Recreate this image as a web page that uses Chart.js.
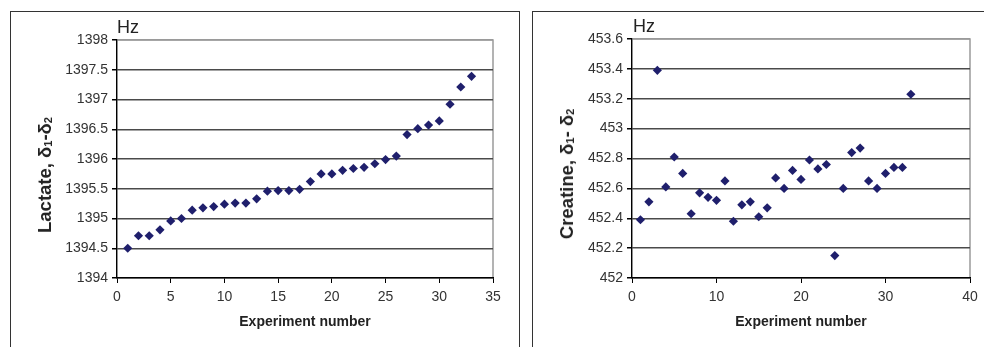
<!DOCTYPE html>
<html>
<head>
<meta charset="utf-8">
<script src="https://cdn.jsdelivr.net/npm/chart.js@4"></script>
<style>
  body { margin: 0; background: #fff; width: 984px; height: 347px; overflow: hidden; position: relative; font-family: "Liberation Sans", Arial, sans-serif; }
  .panel { position: absolute; border: 1px solid #333; border-bottom: none; }
  canvas { position: absolute; top: 0; }
  .hz { position: absolute; font-size: 18px; color: #222; line-height: 1; }
  .ytitle { position: absolute; font-size: 18.5px; font-weight: bold; color: #222; white-space: nowrap; transform: translate(-50%, -50%) rotate(-90deg); }
  .ytitle sub { font-size: 11px; vertical-align: -1px; }
</style>
</head>
<body>
<div class="panel" style="left:10px; top:11px; width:508px; height:400px;"></div>
<div class="panel" style="left:532px; top:11px; width:470px; height:400px; border-right:none;"></div>

<canvas id="chart-lactate" width="520" height="347" style="left:0px;"></canvas>
<canvas id="chart-creatine" width="464" height="347" style="left:520px;"></canvas>

<div class="hz" style="left:117px; top:18px;">Hz</div>
<div class="hz" style="left:633px; top:17px;">Hz</div>
<div class="ytitle" style="left:45px; top:175px;">Lactate, δ<sub>1</sub>-δ<sub>2</sub></div>
<div class="ytitle" style="left:567px; top:174px;">Creatine, δ<sub>1</sub>- δ<sub>2</sub></div>

<script>
// experiment numbers 1..33
var experimentNo = [1, 2, 3, 4, 5, 6, 7, 8, 9, 10, 11, 12, 13, 14, 15, 16, 17, 18, 19, 20, 21, 22, 23, 24, 25, 26, 27, 28, 29, 30, 31, 32, 33];

// lactate delta1-delta2 (Hz)
var lactateHz = [1394.50, 1394.71, 1394.71, 1394.81, 1394.96, 1395.00, 1395.14, 1395.18, 1395.20, 1395.24,
    1395.26, 1395.26, 1395.33, 1395.46, 1395.47, 1395.47, 1395.49, 1395.62, 1395.75, 1395.75,
    1395.81, 1395.84, 1395.86, 1395.92, 1395.99, 1396.05, 1396.41, 1396.51, 1396.57, 1396.64,
    1396.92, 1397.21, 1397.39];

// creatine delta1-delta2 (Hz)
var creatineHz = [452.39, 452.51, 453.39, 452.61, 452.81, 452.70, 452.43, 452.57, 452.54, 452.52,
    452.65, 452.38, 452.49, 452.51, 452.41, 452.47, 452.67, 452.60, 452.72, 452.66,
    452.79, 452.73, 452.76, 452.15, 452.60, 452.84, 452.87, 452.65, 452.60, 452.70,
    452.74, 452.74, 453.23];

// axis ranges / ticks
var lactateYTicks = [1394, 1394.5, 1395, 1395.5, 1396, 1396.5, 1397, 1397.5, 1398];
var lactateXTicks = [0, 5, 10, 15, 20, 25, 30, 35];
var creatineYTicks = [452, 452.2, 452.4, 452.6, 452.8, 453, 453.2, 453.4, 453.6];
var creatineXTicks = [0, 10, 20, 30, 40];

var xTitle = 'Experiment number';
var markerColor = '#1f1f6c';

// gray frame round the plot area (drawn first, axes go over it)
var plotFrame = {
    id: 'plotFrame',
    beforeDraw: function (chart) {
        let a = chart.chartArea;
        let ctx = chart.ctx;
        ctx.save();
        ctx.strokeStyle = '#9a9a9a';
        ctx.lineWidth = 1.5;
        ctx.strokeRect(a.left, a.top, a.right - a.left, a.bottom - a.top);
        ctx.restore();
    }
};

function toPoints(xs, ys) {
    let pts = [];
    xs.forEach((x, i) => pts.push({ x: x, y: ys[i] }));
    return pts;
}

function makeChart(canvasId, yValues, yTicks, xTicks, yAxisWidth, padTop, padRight) {
    let ctx = document.getElementById(canvasId).getContext('2d');
    let yMax = yTicks[yTicks.length - 1];
    return new Chart(ctx, {
        type: 'scatter',
        data: {
            datasets: [{
                data: toPoints(experimentNo, yValues),
                pointStyle: 'rectRot',
                pointRadius: 4.6,
                pointHoverRadius: 4.6,
                backgroundColor: markerColor,
                borderColor: markerColor,
                borderWidth: 0
            }]
        },
        options: {
            responsive: false,
            animation: false,
            events: [],
            layout: { padding: { top: padTop, right: padRight, left: 0, bottom: 0 } },
            plugins: { legend: { display: false }, tooltip: { enabled: false } },
            scales: {
                x: {
                    type: 'linear',
                    min: xTicks[0],
                    max: xTicks[xTicks.length - 1],
                    afterBuildTicks: function (scale) {
                        scale.ticks = xTicks.map(v => ({ value: v }));
                    },
                    afterFit: function (scale) { scale.height = 69; },
                    ticks: {
                        font: { family: 'Liberation Sans', size: 14 },
                        color: '#333',
                        padding: 6,
                        maxRotation: 0,
                        callback: function (v) { return String(v); }
                    },
                    grid: { drawOnChartArea: false, drawTicks: true, tickLength: 5, tickColor: '#000' },
                    border: { color: '#000', width: 1.2 },
                    title: {
                        display: true,
                        text: xTitle,
                        font: { family: 'Liberation Sans', size: 14, weight: 'bold' },
                        color: '#222',
                        padding: { top: 0, bottom: 16 }
                    }
                },
                y: {
                    type: 'linear',
                    min: yTicks[0],
                    max: yMax,
                    afterBuildTicks: function (scale) {
                        scale.ticks = yTicks.map(v => ({ value: v }));
                    },
                    afterFit: function (scale) { scale.width = yAxisWidth; },
                    ticks: {
                        font: { family: 'Liberation Sans', size: 14 },
                        color: '#333',
                        padding: 4,
                        callback: function (v) { return String(Math.round(v * 10) / 10); }
                    },
                    grid: {
                        drawTicks: true,
                        tickLength: 5,
                        tickColor: '#000',
                        lineWidth: 1.5,
                        color: function (c) {
                            return (c.tick && c.tick.value === yMax) ? '#9a9a9a' : '#4a4a4a';
                        }
                    },
                    border: { color: '#000', width: 1.2 }
                }
            }
        },
        plugins: [plotFrame]
    });
}

makeChart('chart-lactate', lactateHz, lactateYTicks, lactateXTicks, 117, 40, 27);
makeChart('chart-creatine', creatineHz, creatineYTicks, creatineXTicks, 112, 39, 14);
</script>
</body>
</html>
